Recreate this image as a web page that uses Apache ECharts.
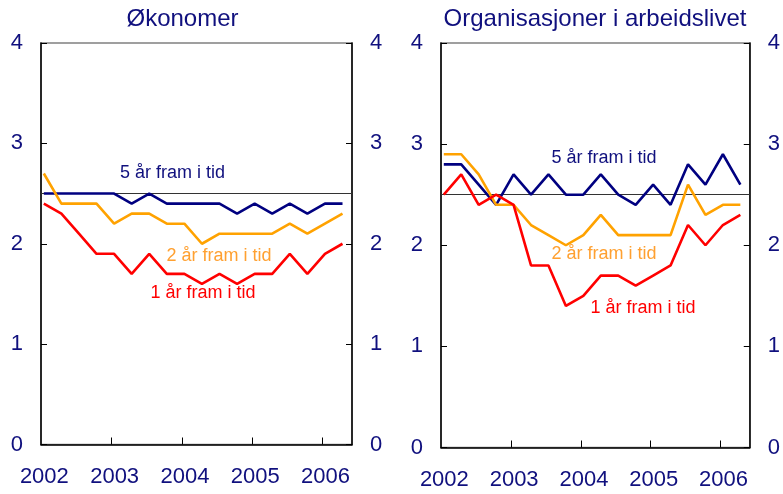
<!DOCTYPE html>
<html><head><meta charset="utf-8">
<script src="https://cdn.jsdelivr.net/npm/echarts@6/dist/echarts.min.js"></script>
<style>html,body{margin:0;padding:0;background:#fff}#c{width:783px;height:494px}</style>
</head><body><div id="c"></div>
<script>
// Quarterly observations, 2002 K1 – 2006 K2
const quarters = ['2002K1','2002K2','2002K3','2002K4','2003K1','2003K2','2003K3','2003K4',
  '2004K1','2004K2','2004K3','2004K4','2005K1','2005K2','2005K3','2005K4','2006K1','2006K2'];
const yearLabels = [2002, 2003, 2004, 2005, 2006];
const yearTicks = [2003, 2004, 2005, 2006];
const panelTitles = ['Økonomer', 'Organisasjoner i arbeidslivet'];
const seriesNames = ['1 år fram i tid', '2 år fram i tid', '5 år fram i tid'];
const inflationTarget = 2.5;

// Økonomer
const okon1 = [2.4,2.3,2.1,1.9,1.9,1.7,1.9,1.7,1.7,1.6,1.7,1.6,1.7,1.7,1.9,1.7,1.9,2.0];
const okon2 = [2.7,2.4,2.4,2.4,2.2,2.3,2.3,2.2,2.2,2.0,2.1,2.1,2.1,2.1,2.2,2.1,2.2,2.3];
const okon5 = [2.5,2.5,2.5,2.5,2.5,2.4,2.5,2.4,2.4,2.4,2.4,2.3,2.4,2.3,2.4,2.3,2.4,2.4];
// Organisasjoner i arbeidslivet
const org1 = [2.5,2.7,2.4,2.5,2.4,1.8,1.8,1.4,1.5,1.7,1.7,1.6,1.7,1.8,2.2,2.0,2.2,2.3];
const org2 = [2.9,2.9,2.7,2.4,2.4,2.2,2.1,2.0,2.1,2.3,2.1,2.1,2.1,2.1,2.6,2.3,2.4,2.4];
const org5 = [2.8,2.8,2.6,2.4,2.7,2.5,2.7,2.5,2.5,2.7,2.5,2.4,2.6,2.4,2.8,2.6,2.9,2.6];

const NAVY = '#000080', ORANGE = '#FFA200', RED = '#FF0000';
const TEXT_NAVY = '#10107e';
const FONT = 'Liberation Sans, Arial, sans-serif';

function qx(q) { return parseInt(q.slice(0,4)) + (parseInt(q.slice(5)) - 1) / 4 + 0.035; }
function pairs(vals) { return vals.map((v, i) => [qx(quarters[i]), v]); }

const grids = [
  {left: 41, top: 43, width: 311, height: 401.5},
  {left: 441, top: 43, width: 310, height: 404.5}
];

function xAxisFor(i) {
  return {
    type: 'value', gridIndex: i, min: 2001.995, max: 2006.42,
    axisLine: {show: true, lineStyle: {color: '#000', width: 1.5}},
    axisTick: {show: true, inside: true, length: 7, customValues: yearTicks, lineStyle: {color: '#000', width: 1}},
    axisLabel: {show: true, customValues: yearLabels, formatter: v => String(Math.round(v)),
      fontSize: 22, fontFamily: FONT, color: TEXT_NAVY, margin: 21, padding: [0,0,0,6]},
    splitLine: {show: false}
  };
}
function yAxisFor(i, pos) {
  return {
    type: 'value', gridIndex: i, position: pos, min: 0, max: 4, interval: 1,
    axisLine: {show: true, onZero: false, lineStyle: {color: '#000', width: 1.5}},
    axisTick: {show: true, inside: true, length: 6, lineStyle: {color: '#000', width: 1}},
    axisLabel: {fontSize: 22, fontFamily: FONT, color: TEXT_NAVY, margin: 18},
    splitLine: {show: false}
  };
}
function line(name, vals, color, gi, withTarget) {
  const s = {
    name: name, type: 'line', xAxisIndex: gi, yAxisIndex: gi * 2,
    data: pairs(vals), symbol: 'none', smooth: false,
    lineStyle: {color: color, width: 2.6}, z: 3
  };
  if (withTarget) {
    s.markLine = {
      silent: true, symbol: ['none','none'], label: {show: false},
      lineStyle: {color: '#333', width: 1, type: 'solid'},
      data: [{yAxis: inflationTarget}], z: 2
    };
  }
  return s;
}
function txt(x, y, s, size, color) {
  return {type: 'text', x: x, y: y, silent: true,
    style: {text: s, fontSize: size, fontFamily: FONT, fill: color, textAlign: 'center', textVerticalAlign: 'middle'}};
}

const chart = echarts.init(document.getElementById('c'));
chart.setOption({
  animation: false,
  backgroundColor: '#fff',
  grid: grids.map(g => Object.assign({show: true, borderColor: '#808080', borderWidth: 1.5, backgroundColor: 'transparent'}, g)),
  xAxis: [xAxisFor(0), xAxisFor(1)],
  yAxis: [yAxisFor(0,'left'), yAxisFor(0,'right'), yAxisFor(1,'left'), yAxisFor(1,'right')],
  series: [
    line(seriesNames[2], okon5, NAVY, 0, true),
    line(seriesNames[1], okon2, ORANGE, 0, false),
    line(seriesNames[0], okon1, RED, 0, false),
    line(seriesNames[2], org5, NAVY, 1, true),
    line(seriesNames[1], org2, ORANGE, 1, false),
    line(seriesNames[0], org1, RED, 1, false)
  ],
  graphic: [
    txt(182.5, 19, panelTitles[0], 24, TEXT_NAVY),
    txt(595, 19, panelTitles[1], 24, TEXT_NAVY),
    txt(172.5, 173, seriesNames[2], 18, TEXT_NAVY),
    txt(219, 256, seriesNames[1], 18, '#FFA030'),
    txt(203, 293, seriesNames[0], 18, RED),
    txt(604, 158, seriesNames[2], 18, TEXT_NAVY),
    txt(604, 254, seriesNames[1], 18, '#FFA030'),
    txt(643, 308, seriesNames[0], 18, RED)
  ]
});
</script></body></html>
